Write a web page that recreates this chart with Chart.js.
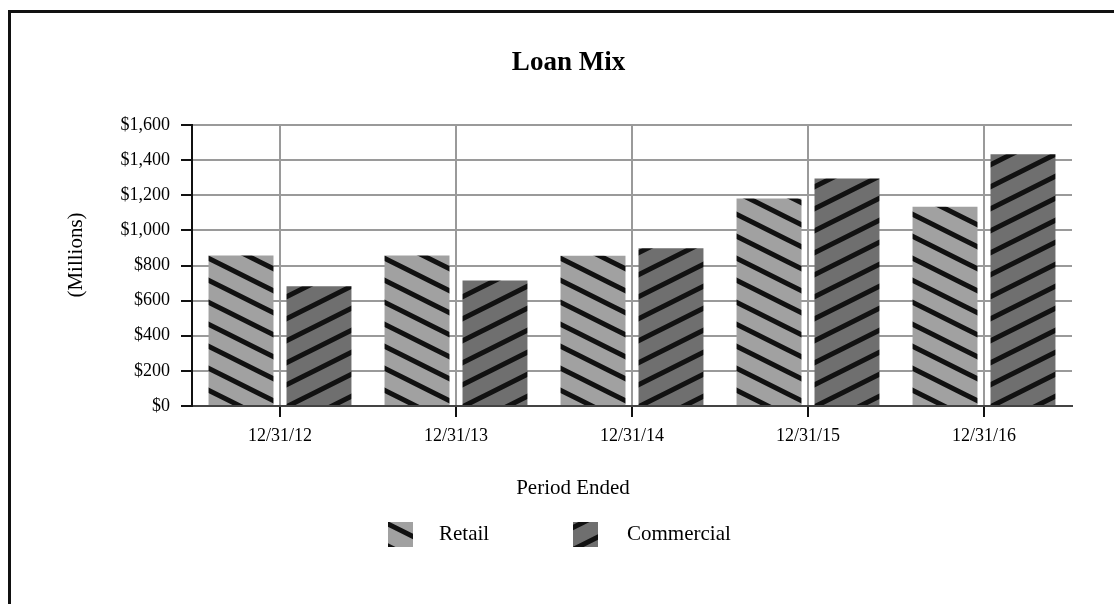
<!DOCTYPE html>
<html>
<head>
<meta charset="utf-8">
<script src="https://cdn.jsdelivr.net/npm/chart.js@4/dist/chart.umd.min.js"></script>
<style>
  html, body { margin: 0; padding: 0; background: #fff; overflow: hidden; width: 1114px; height: 604px; }
  #frame { position: absolute; left: 8px; top: 10px; width: 1200px; height: 700px; border: 3px solid #111; box-sizing: border-box; }
  #loanMix { position: absolute; left: 0; top: 0; }
</style>
</head>
<body>
<div id="frame"></div>
<canvas id="loanMix" width="1137" height="604"></canvas>
<script>
// Loan balances by period, in millions of dollars
const periods = ['12/31/12', '12/31/13', '12/31/14', '12/31/15', '12/31/16'];
const retail = [857, 857, 856, 1181, 1135];
const commercial = [682, 714, 898, 1295, 1433];
const yTickLabels = ['$0', '$200', '$400', '$600', '$800', '$1,000', '$1,200', '$1,400', '$1,600'];

const SERIF = "'Liberation Serif', 'Times New Roman', serif";

// Diagonal hatch fill: dir 1 draws "\" stripes, dir -1 draws "/" stripes
function hatch(bg, dir) {
  const c = document.createElement('canvas');
  c.width = 44; c.height = 22;
  const g = c.getContext('2d');
  g.fillStyle = bg;
  g.fillRect(0, 0, 44, 22);
  g.strokeStyle = '#111';
  g.lineWidth = 5;
  g.beginPath();
  for (const k of [-22, 0, 22]) {
    if (dir > 0) { g.moveTo(-2, k - 1); g.lineTo(46, k + 23); }
    else { g.moveTo(-2, k + 23); g.lineTo(46, k - 1); }
  }
  g.stroke();
  return g.createPattern(c, 'repeat');
}

// Axis titles and legend drawn on the canvas after the chart
const decorations = {
  id: 'decorations',
  afterDraw(chart) {
    const ctx = chart.ctx;
    ctx.save();
    ctx.fillStyle = '#000';
    ctx.font = '21px ' + SERIF;
    ctx.textBaseline = 'middle';

    // y-axis title
    ctx.save();
    ctx.translate(76.5, 255);
    ctx.rotate(-Math.PI / 2);
    ctx.textAlign = 'center';
    ctx.fillText('(Millions)', 0, 0);
    ctx.restore();

    // x-axis title
    ctx.textAlign = 'center';
    ctx.fillText('Period Ended', 573, 488);

    // legend
    const items = chart.data.datasets;
    const boxX = [388, 573];
    const textX = [439, 627];
    ctx.textAlign = 'left';
    items.forEach((ds, i) => {
      ctx.fillStyle = ds.backgroundColor;
      ctx.fillRect(boxX[i], 522, 25, 25);
      ctx.fillStyle = '#000';
      ctx.fillText(ds.label, textX[i], 534.5);
    });
    ctx.restore();
  }
};

new Chart(document.getElementById('loanMix'), {
  type: 'bar',
  data: {
    labels: periods,
    datasets: [
      { label: 'Retail', data: retail, backgroundColor: hatch('#a1a1a1', 1), borderWidth: 0 },
      { label: 'Commercial', data: commercial, backgroundColor: hatch('#6f6f6f', -1), borderWidth: 0 }
    ]
  },
  options: {
    responsive: false,
    animation: false,
    devicePixelRatio: 1,
    categoryPercentage: 0.886,
    barPercentage: 0.833,
    layout: { padding: { top: 0, right: 65, bottom: 0, left: 65 } },
    plugins: {
      legend: { display: false },
      tooltip: { enabled: false },
      title: {
        display: true,
        text: 'Loan Mix',
        color: '#000',
        font: { family: SERIF, size: 27, weight: 'bold' },
        padding: { top: 47, bottom: 45.6 }
      }
    },
    scales: {
      x: {
        offset: true,
        grid: { offset: false, color: '#9a9a9a', lineWidth: 2, tickColor: '#111', tickLength: 11, tickWidth: 2 },
        border: { color: '#444', width: 2 },
        ticks: { color: '#000', padding: 8, font: { family: SERIF, size: 18 } },
        afterFit(scale) { scale.height = 198; }
      },
      y: {
        min: 0,
        max: 1600,
        grid: { color: '#9a9a9a', lineWidth: 2, tickColor: '#111', tickLength: 11, tickWidth: 2 },
        border: { color: '#111', width: 2 },
        ticks: {
          stepSize: 200,
          color: '#000',
          padding: 11,
          font: { family: SERIF, size: 18 },
          callback: (v, i) => yTickLabels[i]
        },
        afterFit(scale) { scale.width = 127; }
      }
    }
  },
  plugins: [decorations]
});
</script>
</body>
</html>
